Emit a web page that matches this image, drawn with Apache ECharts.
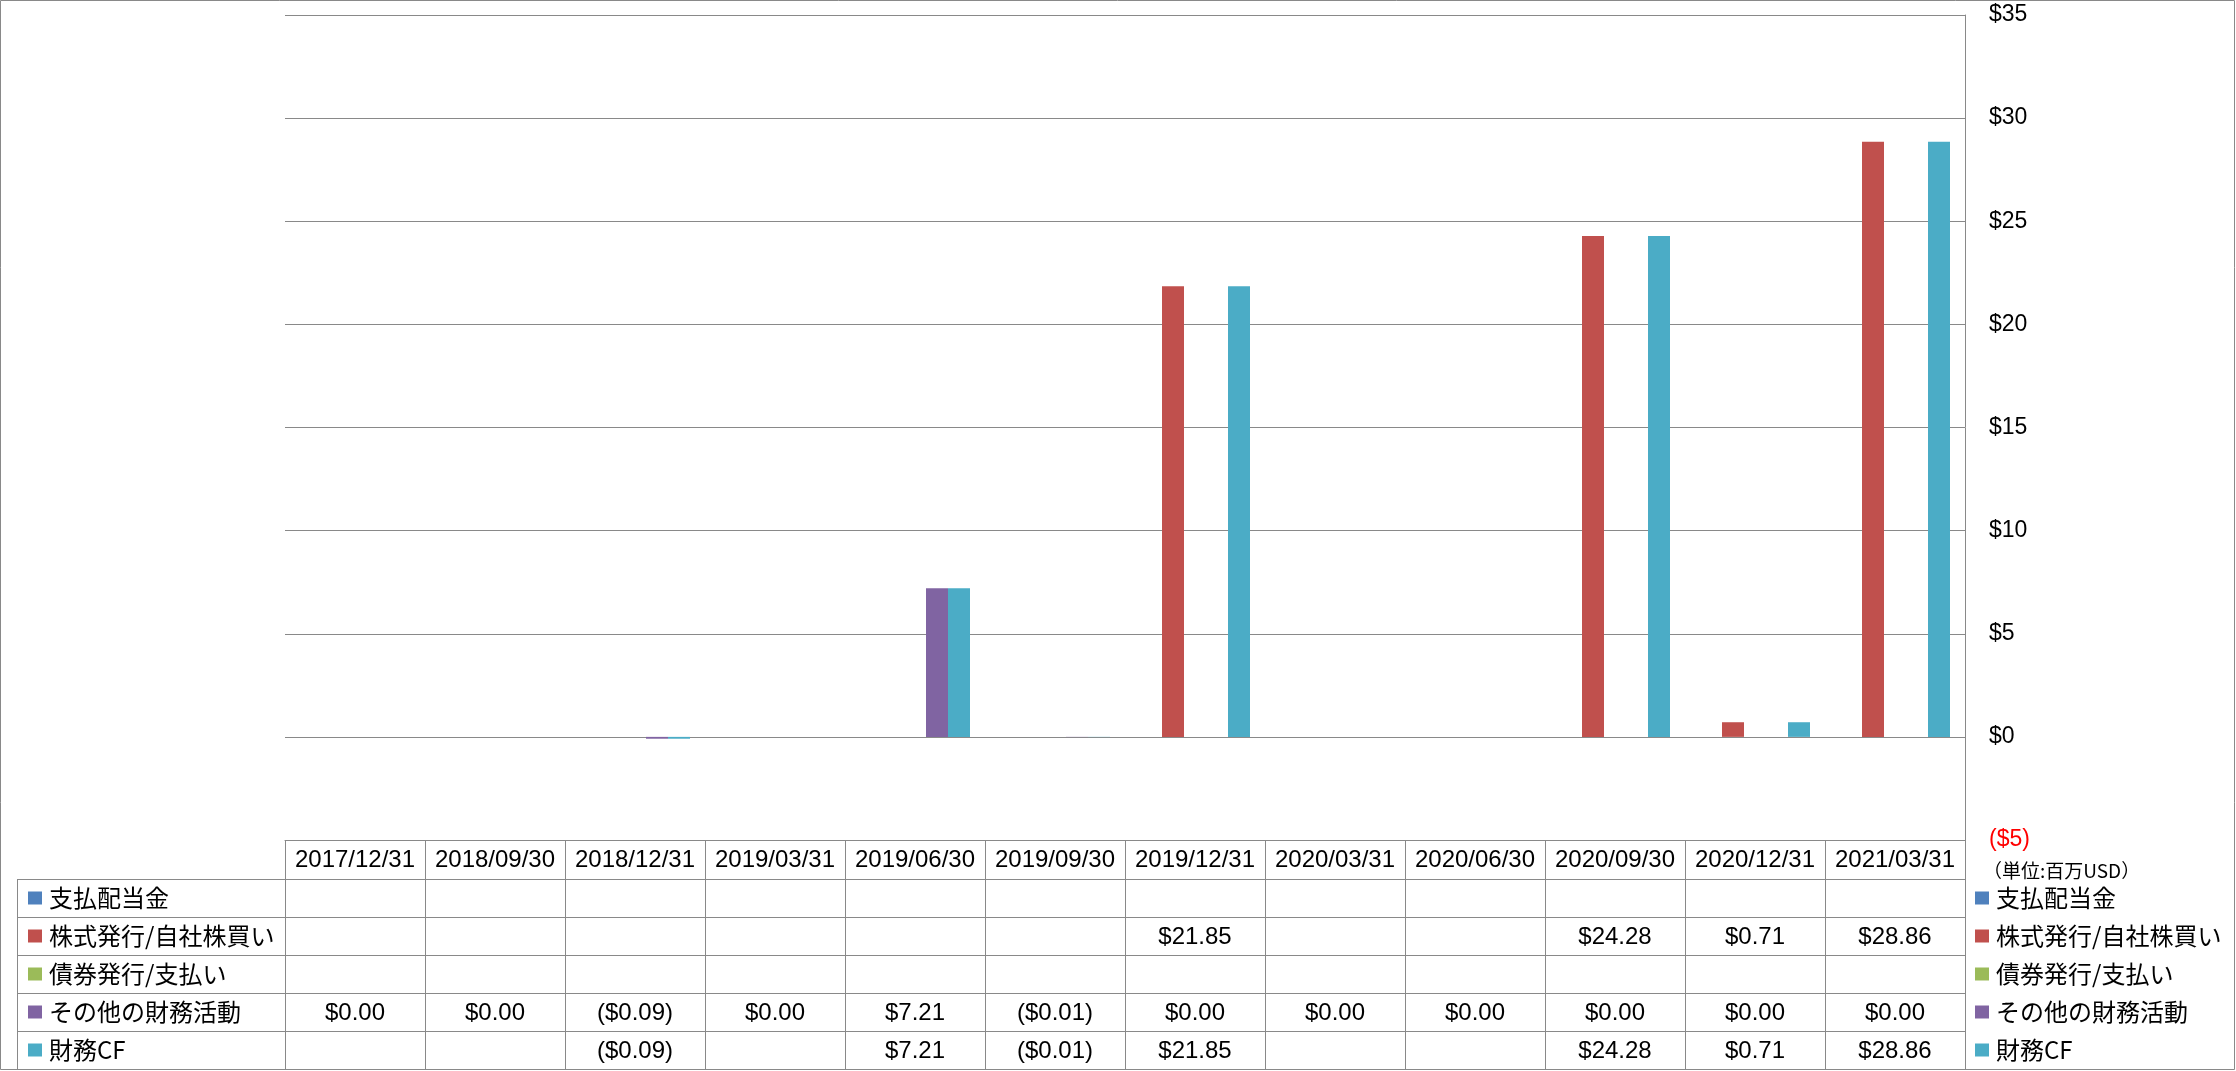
<!DOCTYPE html>
<html>
<head>
<meta charset="utf-8">
<script src="https://cdn.jsdelivr.net/npm/echarts@6/dist/echarts.min.js"></script>
<style>
html,body{margin:0;padding:0;background:#fff;}
#c{width:2236px;height:1071px;}
</style>
</head>
<body>
<div id="c"></div>
<script>
// ---- data ----
const categories = ['2017/12/31','2018/09/30','2018/12/31','2019/03/31','2019/06/30','2019/09/30','2019/12/31','2020/03/31','2020/06/30','2020/09/30','2020/12/31','2021/03/31'];
const dividendsPaid = [null,null,null,null,null,null,null,null,null,null,null,null];
const stockIssuance = [null,null,null,null,null,null,21.85,null,null,24.28,0.71,28.86];
const debtIssuance  = [null,null,null,null,null,null,null,null,null,null,null,null];
const otherFinancing = [0,0,-0.09,0,7.21,-0.01,0,0,0,0,0,0];
const financingCF   = [null,null,-0.09,null,7.21,-0.01,21.85,null,null,24.28,0.71,28.86];
const seriesNames = ['支払配当金','株式発行/自社株買い','債券発行/支払い','その他の財務活動','財務CF'];
const yMin = -5, yMax = 35, yStep = 5;
const unitLabel = '（単位:百万USD）';

// ---- styles / layout ----
const seriesData = [dividendsPaid, stockIssuance, debtIssuance, otherFinancing, financingCF];
const colors = ['#4F81BD','#C0504D','#9BBB59','#8064A2','#4BACC6'];
const W = 2236, H = 1071;
const PL = 285, PR = 1965, PT = 15, PB = 840;
const ROW_TOP = 879, ROW_H = 38, ROWS = 5, TBL_L = 17;
const LINE = '#898989';
const LATIN = '"Liberation Sans", Arial, sans-serif';
const CJK = '"Noto Sans CJK JP", sans-serif';

function fmtMoney(v){
  if (v === null || v === undefined) return '';
  return v < 0 ? '($' + Math.abs(v).toFixed(2) + ')' : '$' + v.toFixed(2);
}

const chart = echarts.init(document.getElementById('c'), null, {renderer:'canvas'});

const legendCommon = {
  orient:'vertical', padding:0, itemWidth:14, itemHeight:13, itemGap:14, icon:'rect',
  selectedMode:false, data:seriesNames,
  textStyle:{fontSize:24, lineHeight:24, color:'#000', fontFamily:CJK, padding:[0,0,0,2]}
};

chart.setOption({
  animation:false,
  backgroundColor:'#fff',
  grid:{left:PL, right:W-PR, top:PT, bottom:H-PB, containLabel:false},
  legend:[
    Object.assign({left:28, top:ROW_TOP + 7}, legendCommon),
    Object.assign({left:1975, top:ROW_TOP + 7}, legendCommon)
  ],
  xAxis:{
    type:'category', data:categories,
    axisLine:{show:true, onZero:false, lineStyle:{color:LINE, width:1}},
    axisTick:{show:true, length:ROW_TOP + ROWS*ROW_H - PB, lineStyle:{color:LINE, width:1}},
    axisLabel:{interval:0, margin:8, fontSize:24, lineHeight:24, color:'#000', fontFamily:LATIN},
    splitLine:{show:false}
  },
  yAxis:{
    type:'value', position:'right', min:yMin, max:yMax, interval:yStep,
    axisLine:{show:true, lineStyle:{color:LINE, width:1}},
    axisTick:{show:false},
    splitLine:{show:true, lineStyle:{color:LINE, width:1}},
    axisLabel:{
      margin:24, fontSize:23, color:'#000', fontFamily:LATIN, align:'left',
      formatter:function(v){ return v < 0 ? '{neg|($' + Math.abs(v) + ')}' : '$' + v; },
      rich:{neg:{color:'#FF0000', fontSize:23, fontFamily:LATIN}}
    }
  },
  series: seriesNames.map(function(n, i){
    return {name:n, type:'bar', data:seriesData[i], barWidth:22, barGap:'0%',
            itemStyle:{color:colors[i]}, emphasis:{disabled:true}};
  })
});

// ---- data table drawn from the same arrays, positioned by the category axis ----
const g = [];
g.push({type:'rect', shape:{x:0.5, y:0.5, width:W-2, height:H-2}, style:{fill:'none', stroke:LINE, lineWidth:1}, silent:true});
for (let k = 0; k <= ROWS; k++){
  const y = ROW_TOP + k*ROW_H + 0.5;
  g.push({type:'line', shape:{x1:TBL_L, y1:y, x2:PR, y2:y}, style:{stroke:LINE, lineWidth:1}, silent:true});
}
g.push({type:'line', shape:{x1:TBL_L+0.5, y1:ROW_TOP, x2:TBL_L+0.5, y2:ROW_TOP+ROWS*ROW_H}, style:{stroke:LINE, lineWidth:1}, silent:true});
for (let r = 0; r < ROWS; r++){
  const yc = ROW_TOP + r*ROW_H + ROW_H/2 + 1;
  categories.forEach(function(c, i){
    const t = fmtMoney(seriesData[r][i]);
    if (!t) return;
    const xc = chart.convertToPixel({xAxisIndex:0}, c);
    g.push({type:'text', x:xc, y:yc, silent:true,
      style:{text:t, fontSize:24, fontFamily:LATIN, fill:'#000', align:'center', verticalAlign:'middle'}});
  });
}
g.push({type:'text', x:1983, y:871, silent:true,
  style:{text:unitLabel, fontSize:19, fontFamily:CJK, fill:'#000', align:'left', verticalAlign:'middle'}});
chart.setOption({graphic:g});
</script>
</body>
</html>
